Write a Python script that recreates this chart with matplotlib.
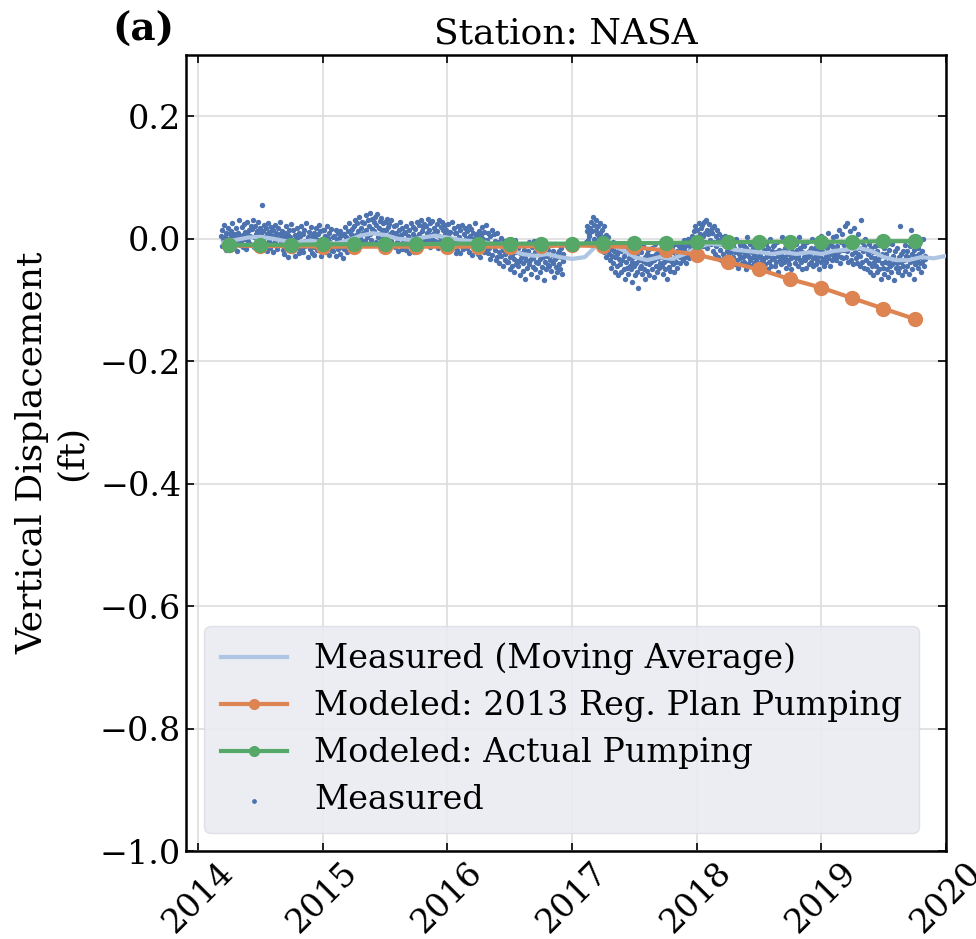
import numpy as np
import pandas as pd
import matplotlib
matplotlib.use("Agg")
import matplotlib.pyplot as plt
import matplotlib.dates as mdates

plt.rcParams['font.family'] = ['DejaVu Serif']

# measured points, thousandths of a foot, one value every 2 days from 2014-03-08
# (None = no reading)
meas_2014 = [
    5, -12, 14, -2, 22, -8, 3, -18, 10, 0, -5, 18, -14, 7, -1,
    12, -9, 25, 3, -15, 8, -4, 17, -20, 1, 9, -7, 30, -11, 4,
    -6, 19, 6, -13, 24, 0, 11, -17, 8, 27, -3, 14, -9, 5, 20,
    16, -10, 31, 2, -14, 21, 7, -5, 12, -19, 28, 4, -8, 18, 9,
    55, -6, 13, 22, -12, 3, 17, -20, 8, 26, -3, 11, -15, 6, 19,
    -9, 14, -22, 5, 23, -4, 10, -16, 1, 18, -11, 7, 28, -7, 3,
    12, -18, 3, -25, 9, 20, -8, -1, -30, 6, 15, -13, 2, 24, -20,
    -2, 14, -19, 6, -28, -10, 18, 1, -15, 9, -24, 4, -6, 21, -17,
    8, -21, 15, -3, -12, 26, -8, 3, -30, 11, -16, 0, 19, -23, 5,
    -14, 10, -26, 2, 17, -8, -19, 7, -2, 23, -12, 12, -29, 0, 15,
]
meas_2015 = [
    -3, 14, -22, 5, -15, 20, -9, 1, -27, 10, -5, -18, 16, -11, 3,
    -20, 4, -12, 15, -28, -2, 9, -17, 1, -25, 12, -7, -14, 6, -31,
    8, -16, 19, -4, 2, -22, 13, -9, 25, -1, -13, 7, 16, -19, 4,
    20, -8, 31, 6, -5, 26, 12, -12, 35, 1, 18, -2, 28, 9, -10,
    25, -4, 38, 14, 3, 30, -8, 20, 42, 7, -2, 33, 16, 11, 27,
    12, 36, -5, 22, 40, 3, 18, -10, 29, 9, 34, -1, 15, 25, 2,
    28, -6, 14, 33, 0, 19, -12, 24, 8, -3, 30, 11, -9, 21, 4,
    -14, 10, 22, -6, 3, -20, 15, 27, -9, 6, -17, 18, -2, 9, -12,
    11, -18, 20, -5, 4, -24, 14, -10, 25, 0, -13, 8, 19, -21, 2,
    16, -9, 28, 3, -15, 22, 7, -4, 30, -11, 12, 19, -6, 24, 1,
    21, -7, 10, 33, -2, 15, -13, 26, 6, 0, 29, -10, 18, 9, -4,
    -8, 24, 12, -15, 30, 5, -3, 19, -11, 27, 1, 14, -7, 22, 8,
]
meas_2016 = [
    15, -12, 6, 24, -20, 3, 11, -7, 28, -15, 0, 18, -4, 9, -23,
    10, -19, 20, -6, 2, -24, 14, -11, 23, -3, -16, 7, 17, -9, 1,
    -15, 12, -2, 21, -22, 5, -9, 16, -27, 0, 10, -14, 25, -6, 3,
    -18, 8, -25, 13, -4, -30, 6, 19, -12, -1, -21, 11, -8, 22, -16,
    -2, -24, 9, -15, -33, 4, -8, 14, -27, -12, 7, -19, -3, -35, 10,
    -30, -6, -22, -40, -10, 1, -28, -14, -45, -19, -3, -35, -25, -8, -38,
    -12, -38, -20, -50, -30, -8, -44, -26, -16, -55, -33, -2, -41, -22, -36,
    -45, -15, -37, -60, -24, -32, -8, -52, -40, -19, -65, -28, -35, -11, -48,
    -20, -42, -5, -35, -58, -27, -14, -46, -31, -3, -50, -22, -38, -62, -17,
    -40, -12, -33, -55, -22, -46, -6, -30, -68, -25, -38, -15, -50, -28, -43,
    -18, -45, -35, -10, -52, -27, -40, -20, -62, -33, -8, -47, -30, -55, -24,
    -42, -20, -50, -30, -15, -58, -36, -25, None, None, None, None, None, None, None,
]
meas_2017 = [
    None, None, None, None, None, None, None, None, None, None, None, None, None, None, None,
    None, None, None, None, None, None, None, None, None, None, -5, 12, 20, -2, 8,
    5, 18, -8, 28, 12, 35, 0, 22, -4, 15, 30, 8, -10, 20, 3,
    10, 25, -5, 14, -15, 2, 20, -22, -8, 6, -30, -12, 3, -25, -18,
    -35, -15, -48, -28, -5, -40, -20, -55, -30, -12, -45, -25, -60, -33, -18,
    -42, -20, -55, -35, -10, -50, -28, -65, -38, -22, -48, -15, -58, -32, -44,
    -25, -50, -38, -70, -30, -45, -15, -60, -40, -28, -55, -80, -35, -20, -48,
    -45, -22, -58, -36, -12, -50, -30, -66, -40, -25, -52, -18, -42, -60, -28,
    -38, -15, -50, -28, -62, -35, -8, -45, -25, -55, -32, -18, -48, -40, -22,
    -20, -44, -30, -58, -12, -38, -50, -26, -65, -34, -15, -46, -28, -52, -36,
    -35, -14, -42, -22, -55, -30, -8, -38, -20, -48, -26, -12, -40, -30, -18,
    -28, -8, -35, -15, -2, -30, -22, -40, -10, -25, 0, -32, -18, -12, -26,
]
meas_2018 = [
    -15, 5, -22, 12, -8, 20, -3, -18, 15, 0, 25, -10, 8, 18, -5,
    22, 5, -12, 28, 10, -5, 30, 15, -15, 8, 24, -2, 12, -8, 18,
    10, -20, 20, -5, -25, 5, -12, 15, -30, -2, 8, -18, -8, -35, 3,
    -25, -5, -32, -12, 5, -40, -20, -8, -28, 0, -38, -15, -22, -45, -10,
    -8, -30, -15, -42, -22, 0, -35, -18, -48, -25, -10, -32, -5, -40, -20,
    -30, -12, -38, -25, -50, -15, 2, -28, -42, -20, -35, -8, -45, -22, -30,
    -15, -40, -28, -5, -35, -52, -20, -30, -10, -45, -25, -38, -2, -32, -48,
    -35, -18, -42, -8, -30, -25, -50, -15, -38, 0, -28, -45, -20, -33, -12,
    -10, -32, -45, -22, -38, -5, -28, -55, -18, -35, -25, -42, 2, -30, -20,
    -38, -15, -30, -48, -22, 0, -35, -25, -42, -12, -32, -50, -20, -28, -8,
    -25, -40, -8, -32, -18, -45, -28, 3, -35, -15, -38, -22, -50, -10, -30,
    -12, -35, -28, -48, -5, -30, -20, -42, -25, -15, -38, 0, -32, -45, -22,
]
meas_2019 = [
    -30, -15, -42, -8, -35, -25, -50, -18, -28, 5, -38, -20, -33, -12, -45,
    -5, -28, -38, -15, 10, -32, -22, -45, -8, -25, -35, -12, 2, -30, -18,
    -25, 5, -35, -12, -28, 15, -20, -40, -5, -30, 8, -18, -32, -10, 20,
    -8, -30, 25, -20, -38, -2, -15, 12, -35, -25, 0, -42, -12, 18, -22,
    -32, -10, -40, 8, -25, -15, -45, -28, 30, -5, -38, -20, -12, -48, 0,
    -35, -18, -50, -25, -40, -8, -55, -30, -15, -45, -22, -60, -38, -12, -32,
    -45, -20, -55, -35, -10, -50, -28, -65, -40, -25, -48, -15, -58, -38, -30,
    -25, -50, -40, -62, -18, -45, -33, -55, -8, -42, -28, -68, -38, -20, -48,
    -40, -15, -55, -30, -48, 20, -38, -25, -60, -20, -45, -35, -10, -52, -28,
    -20, -45, -30, -58, -12, -38, 15, -50, -25, -35, -65, -18, -42, -28, -40,
    -35, -15, -48, -25, -40, -30, -55, -20, -38, 0, -45, -28, -33,
]

# moving average of the measured series, every 0.1 yr from 2014.2 to 2020.0 (ft)
ma_start = 2014.2
ma_vals = [
    -0.006, -0.002, 0.002, 0.003, 0.000, -0.004, -0.006, -0.003, -0.006, -0.008,
    -0.003, 0.005, 0.009, 0.006, 0.000, -0.002, 0.002, 0.005, 0.002, -0.002,
    -0.004, -0.006, -0.010, -0.018, -0.025, -0.028, -0.025, -0.030, -0.033, -0.030,
    -0.010, -0.008, -0.018, -0.030, -0.035, -0.030, -0.033, -0.025, -0.015, -0.008,
    -0.010, -0.018, -0.020, -0.022, -0.025, -0.022, -0.025, -0.022, -0.025, -0.020,
    -0.018, -0.015, -0.020, -0.030, -0.035, -0.035, -0.030, -0.032, -0.028,
]

# modeled, quarterly from 2014-04 to 2019-10
plan_2013 = [
    -0.011, -0.012, -0.012, -0.013, -0.013, -0.013, -0.013, -0.013, -0.013, -0.013,
    -0.012, -0.011, -0.012, -0.014, -0.019, -0.026, -0.038, -0.050, -0.066, -0.080,
    -0.097, -0.114, -0.131,
]
actual = [
    -0.010, -0.010, -0.010, -0.009, -0.009, -0.009, -0.009, -0.008, -0.008, -0.008,
    -0.008, -0.008, -0.007, -0.007, -0.007, -0.006, -0.006, -0.005, -0.005, -0.005,
    -0.005, -0.004, -0.004,
]


def dec_to_date(y):
    yr = int(y)
    start = pd.Timestamp(year=yr, month=1, day=1)
    return start + pd.Timedelta(days=(y - yr) * 365.25)


meas = meas_2014 + meas_2015 + meas_2016 + meas_2017 + meas_2018 + meas_2019
meas = np.array([np.nan if v is None else v / 1000 for v in meas])
meas_dates = pd.date_range('2014-03-08', periods=len(meas), freq='2D')

ma_dates = [dec_to_date(ma_start + 0.1 * i) for i in range(len(ma_vals))]
q_dates = pd.date_range('2014-04-01', periods=len(actual), freq='QS')

fig = plt.figure(figsize=(9.76, 9.39), dpi=100)
ax = fig.add_axes([0.1906, 0.0937, 0.7787, 0.8477])

ax.scatter(meas_dates, meas, s=15, color='#4C72B0', label='Measured', zorder=2, linewidths=0)
ax.plot(ma_dates, ma_vals, color='#AEC5E3', lw=3, label='Measured (Moving Average)', zorder=3)
ax.plot(q_dates, plan_2013, color='#DD8452', lw=3, marker='o', ms=10,
        label='Modeled: 2013 Reg. Plan Pumping', zorder=4)
ax.plot(q_dates, actual, color='#55A868', lw=3, marker='o', ms=10,
        label='Modeled: Actual Pumping', zorder=5)

ax.set_ylim(-1.0, 0.3)
ax.set_yticks(np.arange(-1.0, 0.21, 0.2))
ax.set_xlim(pd.Timestamp('2013-11-26'), pd.Timestamp('2020-01-01'))
ax.xaxis.set_major_locator(mdates.YearLocator())
ax.xaxis.set_major_formatter(mdates.DateFormatter('%Y'))
for lab in ax.get_xticklabels():
    lab.set_rotation(45)

ax.grid(True, color='#DDDDDD', lw=1.2)
ax.set_axisbelow(True)
ax.tick_params(direction='in', top=True, right=True, labelsize=24, length=6, width=1.2)
for sp in ax.spines.values():
    sp.set_linewidth(1.8)
    sp.set_color('black')

ax.set_ylabel('Vertical Displacement\n(ft)', fontsize=26, labelpad=8)
ax.set_title('Station: NASA', fontsize=26, pad=8)
fig.text(0.115, 0.968, '(a)', fontsize=28, fontweight='bold', ha='left', va='center')

handles, labels = ax.get_legend_handles_labels()
order = [1, 2, 3, 0]
leg = ax.legend([handles[i] for i in order], [labels[i] for i in order],
                loc='lower left', bbox_to_anchor=(0.0237, 0.0226), borderaxespad=0,
                fontsize=24, frameon=True, facecolor='#EAEAF2', edgecolor='#DDDDE6',
                framealpha=0.9, markerscale=1.0, handlelength=2.0,
                labelspacing=0.45, borderpad=0.5)
leg.legend_handles[3].set_sizes([12])
for h in leg.legend_handles[1:3]:
    h.set_markersize(7)

fig.savefig('out.png', dpi=100)
